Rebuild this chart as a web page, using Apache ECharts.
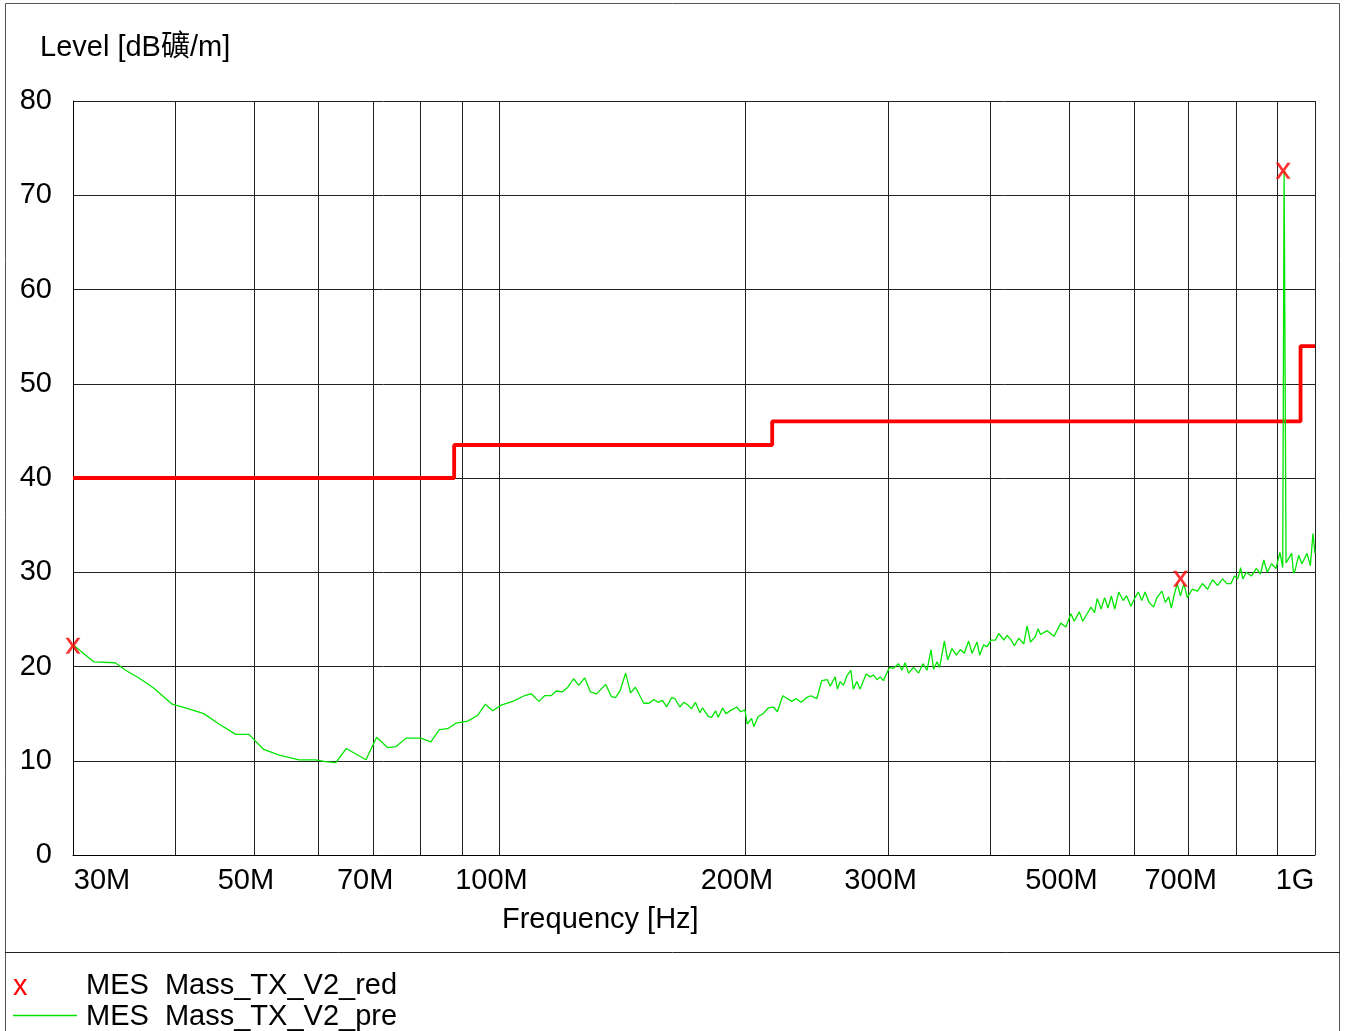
<!DOCTYPE html>
<html>
<head>
<meta charset="utf-8">
<script src="https://cdn.jsdelivr.net/npm/echarts@6/dist/echarts.min.js"></script>
<style>
    html,body{margin:0;padding:0;background:#fff;}
    #main{width:1347px;height:1031px;}
</style>
</head>
<body>
<div id="main"></div>
<script>
// 频率单位 MHz
let preFreq = [
    30.0, 31.8, 33.8, 34.8, 36.1, 37.7, 39.7, 41.6, 43.4, 45.3,
    47.5, 49.3, 51.4, 53.7, 56.8, 59.5, 61.2, 63.0, 64.9, 68.6,
    70.7, 72.9, 74.7, 76.8, 80.1, 82.4, 84.4, 86.4, 88.5, 91.4,
    94.0, 96.1, 98.1, 100.5, 103.8, 107.3, 109.4, 111.8, 113.6, 115.7,
    117.4, 119.4, 121.3, 123.3, 125.1, 127.2, 129.3, 131.5, 135.0, 137.2,
    138.8, 140.7, 142.8, 144.8, 146.8, 150.3, 152.6, 154.6, 156.5, 158.5,
    160.3, 162.6, 164.1, 166.4, 168.3, 170.3, 172.0, 173.9, 176.1, 177.4,
    180.3, 182.0, 184.1, 185.4, 187.8, 189.5, 192.6, 195.4, 197.6, 200.0,
    201.3, 203.8, 205.1, 207.6, 210.6, 213.6, 216.7, 219.2, 222.5, 225.4,
    228.3, 231.0, 234.3, 238.1, 240.8, 245.0, 248.4, 252.4, 254.4, 258.0,
    259.7, 261.7, 264.1, 266.6, 269.7, 271.6, 274.3, 276.9, 281.6, 284.8,
    287.5, 290.3, 293.0, 295.7, 298.5, 300.8, 304.2, 308.5, 311.5, 314.4,
    317.4, 321.9, 326.5, 330.6, 334.4, 338.2, 340.7, 344.0, 346.5, 351.2,
    354.4, 358.9, 363.3, 367.4, 371.5, 376.1, 379.8, 385.1, 388.0, 392.4,
    396.2, 400.7, 405.6, 409.5, 415.3, 419.3, 424.1, 428.0, 433.2, 439.5,
    443.6, 447.9, 454.2, 457.6, 460.7, 469.5, 478.6, 487.8, 494.9, 501.9,
    506.8, 514.0, 519.0, 526.4, 531.4, 536.6, 540.7, 546.8, 552.1, 557.4,
    562.7, 568.1, 574.6, 581.8, 587.4, 594.6, 601.5, 607.2, 613.1, 619.0,
    626.1, 633.9, 639.9, 649.1, 655.4, 661.6, 666.5, 671.1, 677.7, 683.9,
    690.6, 697.3, 707.1, 717.5, 727.7, 738.3, 748.8, 759.7, 770.5, 779.6,
    788.9, 796.6, 804.4, 810.5, 815.7, 823.7, 835.5, 847.5, 857.2, 865.5,
    873.9, 884.6, 895.7, 905.7, 912.9, 916.5, 921.5, 936.3, 941.3, 945.5,
    954.7, 963.8, 977.7, 987.0, 994.3, 1000
]
let preLevel = [
    22.3, 20.5, 20.4, 19.6, 18.8, 17.7, 16.0, 15.5, 15.0, 13.9,
    12.8, 12.8, 11.2, 10.6, 10.1, 10.1, 9.9, 9.8, 11.3, 10.1,
    12.5, 11.4, 11.5, 12.4, 12.4, 12.0, 13.3, 13.4, 14.0, 14.2,
    14.8, 16.0, 15.3, 15.9, 16.3, 16.9, 17.1, 16.3, 16.9, 16.9,
    17.4, 17.3, 17.8, 18.7, 18.0, 18.8, 17.3, 17.1, 18.1, 16.8,
    16.7, 17.5, 19.3, 17.2, 17.8, 16.1, 16.1, 16.5, 16.2, 16.4,
    15.7, 16.7, 16.6, 15.7, 16.2, 15.9, 15.5, 16.2, 15.1, 15.6,
    14.7, 14.6, 15.3, 14.6, 15.6, 15.0, 15.4, 15.7, 15.2, 15.4,
    13.9, 14.5, 13.6, 14.7, 15.0, 15.6, 15.7, 15.2, 16.9, 16.6,
    16.3, 16.6, 16.2, 16.7, 16.9, 16.6, 18.5, 18.6, 17.9, 18.9,
    17.6, 18.4, 18.0, 19.0, 19.6, 17.6, 18.4, 17.6, 19.2, 18.9,
    19.1, 18.6, 18.9, 18.5, 19.3, 19.9, 19.8, 20.3, 19.6, 20.4,
    19.3, 19.9, 19.3, 20.3, 19.6, 21.8, 19.7, 20.5, 19.9, 22.7,
    20.7, 21.9, 21.2, 21.8, 21.4, 22.7, 21.4, 22.6, 21.2, 22.3,
    22.1, 22.8, 22.8, 23.5, 22.8, 23.3, 22.8, 22.2, 23.0, 22.4,
    24.3, 22.6, 23.2, 24.0, 23.4, 23.8, 23.2, 24.6, 24.2, 25.6,
    24.8, 25.8, 24.8, 25.7, 26.3, 25.7, 27.2, 26.1, 27.3, 26.2,
    27.5, 26.1, 27.9, 27.0, 27.5, 26.4, 27.3, 27.9, 27.0, 27.9,
    26.8, 26.3, 27.3, 28.0, 26.8, 27.4, 26.2, 27.4, 28.8, 27.5,
    28.8, 27.3, 28.2, 28.0, 28.8, 28.2, 29.2, 28.6, 29.3, 28.8,
    28.8, 29.6, 29.3, 30.5, 29.3, 30.0, 29.6, 30.4, 29.8, 31.3,
    30.0, 30.9, 30.4, 32.1, 30.5, 72.6, 31.0, 32.0, 29.9, 30.2,
    31.8, 30.9, 32.0, 30.7, 34.1, 32.0
]

// 最终测量点 (x)
let redFreq = [30, 684, 914]
let redLevel = [22.2, 29.3, 72.6]

// 限值线
let limitFreq = [30, 88, 88, 216, 216, 960, 960, 1000]
let limitLevel = [40, 40, 43.5, 43.5, 46, 46, 54, 54]

// 刻度
let gridFreq = [30, 40, 50, 60, 70, 80, 90, 100, 200, 300, 400, 500, 600, 700, 800, 900, 1000]
let labelFreq = [30, 50, 70, 100, 200, 300, 500, 700, 1000]

let font = "'Liberation Sans', Arial, sans-serif"
let fs = 29
let lg = Math.log10

function pairs(fq, vs){
    let out = []
    for(let i = 0; i < fq.length; i++){
        out.push([lg(fq[i]), vs[i]])
    }
    return out
}

var myChart = echarts.init(document.getElementById('main'))

var option = {
    animation: false,
    backgroundColor: '#fff',
    grid: {
        left: 73,
        right: 32,
        top: 101,
        bottom: 176
    },
    xAxis: {
        type: 'value',
        min: lg(30),
        max: 3,
        axisLine: {show: true, lineStyle: {color: '#000', width: 1}},
        axisTick: {show: false, customValues: gridFreq.map(lg)},
        splitLine: {show: true, lineStyle: {color: '#222', width: 1}},
        axisLabel: {
            customValues: labelFreq.map(lg),
            margin: 11,
            color: '#000',
            fontFamily: font,
            fontSize: fs,
            formatter: function(v){
                let f = Math.round(Math.pow(10, v))
                let t = f >= 1000 ? (f / 1000) + 'G' : f + 'M'
                if(f === labelFreq[0]) return '{first|' + t + '}'
                if(f === labelFreq[labelFreq.length - 1]) return '{last|' + t + '}'
                return '{mid|' + t + '}'
            },
            rich: {
                first: {fontSize: fs, fontFamily: font, color: '#000', padding: [0, 0, 0, 58]},
                mid: {fontSize: fs, fontFamily: font, color: '#000', padding: [0, 16, 0, 0]},
                last: {fontSize: fs, fontFamily: font, color: '#000', padding: [0, 40, 0, 0]}
            }
        }
    },
    yAxis: {
        type: 'value',
        min: 0,
        max: 80,
        interval: 10,
        axisLine: {show: true, lineStyle: {color: '#000', width: 1}},
        axisTick: {show: false},
        splitLine: {show: true, lineStyle: {color: '#222', width: 1}},
        axisLabel: {
            margin: 21,
            color: '#000',
            fontFamily: font,
            fontSize: fs,
            padding: [4, 0, 0, 0]
        }
    },
    graphic: [
        {
            type: 'rect', silent: true, z: -1,
            shape: {x: 5.5, y: 3.5, width: 1334, height: 1040},
            style: {fill: 'none', stroke: '#555', lineWidth: 1}
        },
        {
            type: 'line', silent: true,
            shape: {x1: 5, y1: 952.5, x2: 1340, y2: 952.5},
            style: {stroke: '#222', lineWidth: 1}
        },
        {
            type: 'text', left: 40, top: 33,
            style: {text: 'Level [dB礦/m]', fill: '#000', font: fs + "px 'Liberation Sans', 'Noto Sans CJK SC', sans-serif"}
        },
        {
            type: 'text', left: 502, top: 905,
            style: {text: 'Frequency [Hz]', fill: '#000', font: fs + "px 'Liberation Sans', Arial, sans-serif"}
        },
        // 图例
        {
            type: 'text', left: 13, top: 972,
            style: {text: 'x', fill: '#ff0000', font: fs + "px 'Liberation Sans', Arial, sans-serif"}
        },
        {
            type: 'text', left: 86, top: 971,
            style: {text: 'MES  Mass_TX_V2_red', fill: '#000', font: fs + "px 'Liberation Sans', Arial, sans-serif"}
        },
        {
            type: 'line', silent: true,
            shape: {x1: 13, y1: 1015.5, x2: 77, y2: 1015.5},
            style: {stroke: '#00e000', lineWidth: 1.3}
        },
        {
            type: 'text', left: 86, top: 1002,
            style: {text: 'MES  Mass_TX_V2_pre', fill: '#000', font: fs + "px 'Liberation Sans', Arial, sans-serif"}
        }
    ],
    series: [
        {
            name: 'Limit',
            type: 'line',
            data: pairs(limitFreq, limitLevel),
            symbol: 'none',
            z: 3,
            lineStyle: {color: '#ff0000', width: 3.8}
        },
        {
            name: 'MES  Mass_TX_V2_pre',
            type: 'line',
            data: pairs(preFreq, preLevel),
            symbol: 'none',
            z: 4,
            lineStyle: {color: '#00e600', width: 1.3}
        },
        {
            name: 'MES  Mass_TX_V2_red',
            type: 'scatter',
            data: pairs(redFreq, redLevel),
            symbol: 'path://M0,0 L3.2,0 L7,6 L10.8,0 L14,0 L8.7,8 L14,16 L10.8,16 L7,10 L3.2,16 L0,16 L5.3,8 Z',
            symbolSize: [15, 16],
            z: 5,
            itemStyle: {color: '#ff0000'}
        }
    ]
}

myChart.setOption(option)
</script>
</body>
</html>
